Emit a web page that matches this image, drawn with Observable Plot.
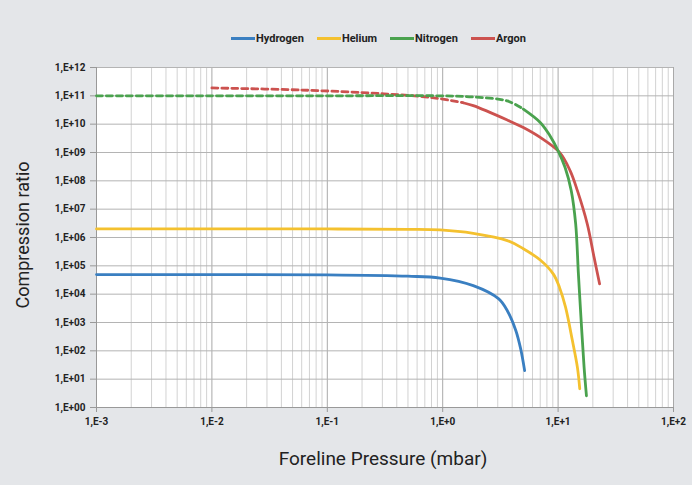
<!DOCTYPE html>
<html>
<head>
<meta charset="utf-8">
<script src="https://cdn.jsdelivr.net/npm/d3@7"></script>
<script src="https://cdn.jsdelivr.net/npm/@observablehq/plot@0.6"></script>
<style>
  html, body { margin: 0; padding: 0; background: #e4e6e9; }
  #wrap { position: relative; width: 692px; height: 485px; background: #e4e6e9; font-family: "Roboto", sans-serif; }
  #legend { position: absolute; top: 32px; left: 231px; display: flex; gap: 13px; font-size: 11px; font-weight: bold; color: #222; }
  #legend span.item { display: flex; align-items: center; }
  #legend span.sw { display: inline-block; width: 24px; height: 3px; margin-right: 1px; }
</style>
</head>
<body>
<div id="wrap"><div id="legend"></div></div>
<script>
// ---- data ----
const seriesNames = ["Hydrogen", "Helium", "Nitrogen", "Argon"];
const seriesColors = ["#3a7fc1", "#f4c12f", "#4aa24e", "#cc524f"];

const hydrogenP = [0.001, 0.01, 0.1, 0.5, 0.95, 1.84, 3.06, 3.63, 4.3, 4.74, 5.13];
const hydrogenK = [4.9e4, 4.9e4, 4.8e4, 4.3e4, 3.7e4, 2.0e4, 6.8e3, 2.6e3, 525, 117, 20];

const heliumP = [0.001, 0.01, 0.1, 0.5, 0.95, 1.84, 3.63, 5.0, 7.0, 9.1, 10.3, 11.6, 13.3, 14.7, 15.4];
const heliumK = [2.0e6, 2.0e6, 2.0e6, 1.95e6, 1.85e6, 1.4e6, 7.8e5, 4.0e5, 1.6e5, 5.1e4, 1.7e4, 3.5e3, 230, 26, 4.6];

const nitrogenP = [0.001, 0.01, 0.1, 0.95, 1.84, 3.63, 5.0, 7.0, 8.5, 10.0, 11.5, 13.0, 14.2, 15.0, 15.9, 16.8, 17.6];
const nitrogenK = [1.0e11, 1.0e11, 1.0e11, 1.0e11, 9.1e10, 6.6e10, 3.4e10, 1.15e10, 3.9e9, 1.15e9, 2.95e8, 4.5e7, 3.0e6, 5.1e4, 890, 26, 2.6];
const nitrogenDashUntil = 5.0;

const argonP = [0.01, 0.06, 0.31, 0.84, 1.5, 1.84, 3.63, 5.0, 7.0, 10.3, 12.7, 14.7, 17.9, 20.5, 22.9];
const argonK = [1.9e11, 1.6e11, 1.18e11, 8.5e10, 5.7e10, 4.5e10, 1.4e10, 7.6e9, 3.4e9, 1.0e9, 2.3e8, 4.5e7, 3.0e6, 2.0e5, 2.3e4];
const argonDashUntil = 1.5;

const xTicks = [0.001, 0.01, 0.1, 1, 10, 100];
const xTickLabels = ["1,E-3", "1,E-2", "1,E-1", "1,E+0", "1,E+1", "1,E+2"];
const yTicks = [1, 1e1, 1e2, 1e3, 1e4, 1e5, 1e6, 1e7, 1e8, 1e9, 1e10, 1e11, 1e12];
const yTickLabels = ["1,E+00", "1,E+01", "1,E+02", "1,E+03", "1,E+04", "1,E+05", "1,E+06", "1,E+07", "1,E+08", "1,E+09", "1,E+10", "1,E+11", "1,E+12"];

// ---- build tables ----
function rows(name, P, K) { return P.map((p, i) => ({name, p, k: K[i]})); }
const hyd = rows("Hydrogen", hydrogenP, hydrogenK);
const hel = rows("Helium", heliumP, heliumK);
const nit = rows("Nitrogen", nitrogenP, nitrogenK);
const arg = rows("Argon", argonP, argonK);

const nitDash = nit.filter(d => d.p <= nitrogenDashUntil);
const nitSolid = nit.filter(d => d.p >= nitrogenDashUntil);
const argDash = arg.filter(d => d.p <= argonDashUntil);
const argSolid = arg.filter(d => d.p >= argonDashUntil);

const minorX = [];
for (let e = -3; e < 2; e++) for (let m = 2; m <= 9; m++) minorX.push(m * Math.pow(10, e));

const col = Object.fromEntries(seriesNames.map((n, i) => [n, seriesColors[i]]));
const curve = "catmull-rom";
const sw = 2.8;
const xLab = d => xTickLabels[xTicks.findIndex(t => Math.abs(Math.log10(t) - Math.log10(d)) < 1e-6)];
const yLab = d => yTickLabels[yTicks.findIndex(t => Math.abs(Math.log10(t) - Math.log10(d)) < 1e-6)];

const chart = Plot.plot({
  width: 692,
  height: 485,
  marginLeft: 96,
  marginRight: 19,
  marginTop: 67,
  marginBottom: 78,
  style: {background: "transparent", fontFamily: "Roboto, sans-serif"},
  x: {type: "log", domain: [0.001, 100]},
  y: {type: "log", domain: [1, 1e12]},
  marks: [
    Plot.frame({fill: "white", stroke: null}),
    Plot.ruleX(minorX, {stroke: "#d2d2d2", strokeWidth: 1}),
    Plot.ruleX(xTicks, {stroke: "#a9a9a9", strokeWidth: 1}),
    Plot.ruleY(yTicks, {stroke: "#b4b4b4", strokeWidth: 1}),
    Plot.ruleX([0.001], {stroke: "#999"}),
    Plot.ruleY([1], {stroke: "#999"}),
    Plot.axisX({ticks: xTicks, tickFormat: xLab, tickSize: 5, tickPadding: 5, fontSize: 10, fontWeight: "bold", stroke: "#999", fill: "#222", label: null}),
    Plot.axisY({ticks: yTicks, tickFormat: yLab, tickSize: 6, tickPadding: 5, fontSize: 10, fontWeight: "bold", stroke: "#999", fill: "#222", label: null}),
    Plot.lineY(hyd, {x: "p", y: "k", stroke: col.Hydrogen, strokeWidth: sw, curve}),
    Plot.lineY(hel, {x: "p", y: "k", stroke: col.Helium, strokeWidth: sw, curve}),
    Plot.lineY(argDash, {x: "p", y: "k", stroke: col.Argon, strokeWidth: sw, strokeDasharray: "6,4", curve}),
    Plot.lineY(argSolid, {x: "p", y: "k", stroke: col.Argon, strokeWidth: sw, curve}),
    Plot.lineY(nitDash, {x: "p", y: "k", stroke: col.Nitrogen, strokeWidth: sw, strokeDasharray: "6,4", curve}),
    Plot.lineY(nitSolid, {x: "p", y: "k", stroke: col.Nitrogen, strokeWidth: sw, curve})
  ]
});

// axis titles as real text in the SVG
const svg = d3.select(chart);
svg.append("text").attr("x", 383).attr("y", 465).attr("text-anchor", "middle")
  .attr("font-size", 19).attr("fill", "#222").text("Foreline Pressure (mbar)");
svg.append("text").attr("transform", "translate(29,235) rotate(-90)").attr("text-anchor", "middle")
  .attr("font-size", 18).attr("fill", "#222").text("Compression ratio");

document.getElementById("wrap").appendChild(chart);
chart.style.position = "absolute"; chart.style.left = "0"; chart.style.top = "0";

const legend = document.getElementById("legend");
seriesNames.forEach((n, i) => {
  const it = document.createElement("span"); it.className = "item";
  const s = document.createElement("span"); s.className = "sw"; s.style.background = seriesColors[i];
  it.appendChild(s); it.appendChild(document.createTextNode(n));
  legend.appendChild(it);
});
</script>
</body>
</html>
